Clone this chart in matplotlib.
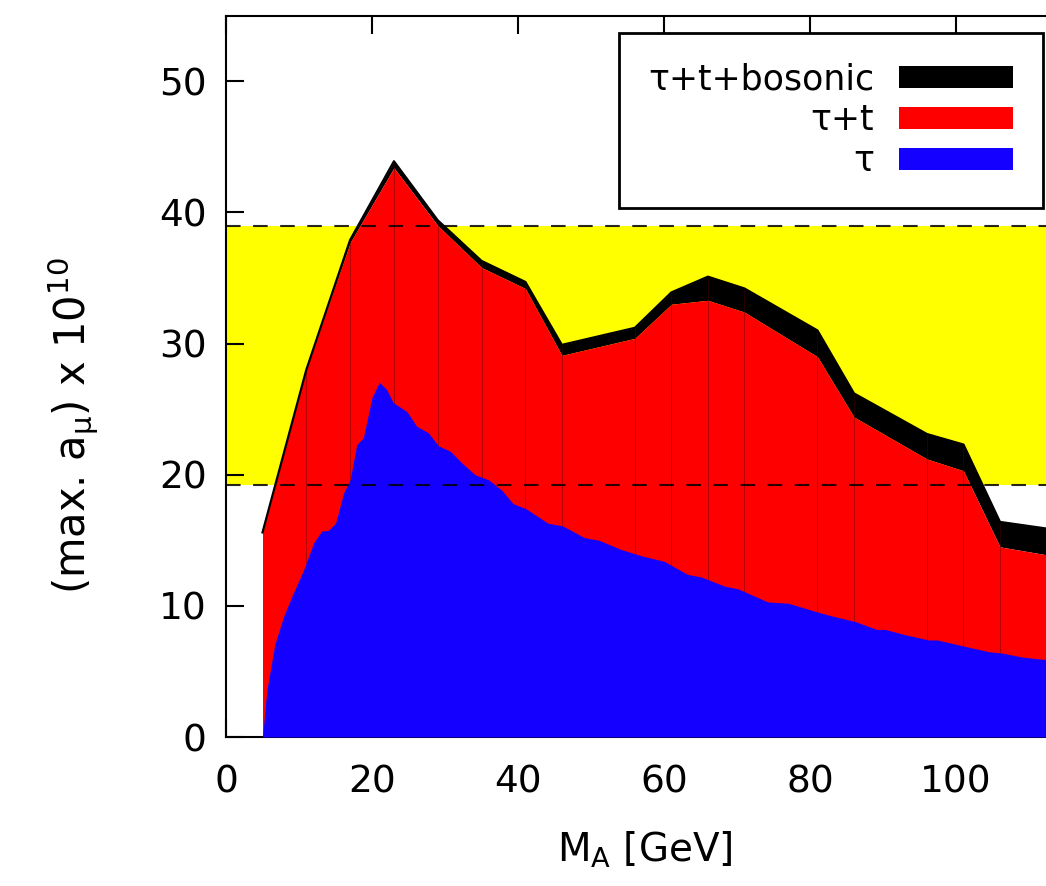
import matplotlib.pyplot as plt
from matplotlib.patches import Patch

# tau + top contribution (data points of the red region)
mass_tt = [5, 11, 17, 23, 29, 35, 41, 46, 56, 61, 66, 71, 81, 86, 96, 101, 106, 112.3]
amu_tt = [15.6, 28.0, 37.7, 43.4, 39.0, 35.8, 34.2, 29.1, 30.4, 33.0, 33.3, 32.4,
          29.0, 24.4, 21.2, 20.3, 14.5, 13.9]
# tau + top + bosonic (top of the black band)
amu_total = [15.6, 28.0, 37.9, 43.9, 39.4, 36.3, 34.7, 29.9, 31.2, 33.9, 35.1, 34.2,
             31.0, 26.2, 23.1, 22.3, 16.4, 15.9]

# tau only
mass_tau = [5.0, 5.6, 6.7, 7.9, 9.0, 10.6, 12.0, 13.1, 14.0, 15.0, 16.1, 17.0, 17.9,
            18.8, 20.0, 21.0, 22.0, 22.9, 24.8, 26.1, 27.7, 29.1, 30.7, 32.3, 34.1,
            36.0, 37.8, 39.3, 41.1, 44.1, 46.1, 49.1, 51.1, 54.1, 57.0, 60.0, 63.2,
            65.1, 68.3, 70.1, 74.2, 77.0, 81.2, 83.2, 86.2, 89.1, 90.3, 93.0, 96.2,
            97.4, 101.3, 104.5, 106.3, 109.0, 112.3]
amu_tau = [0.0, 3.6, 7.1, 9.2, 10.7, 12.7, 14.8, 15.7, 15.75, 16.3, 18.6, 19.6, 22.3,
           22.8, 25.9, 27.05, 26.5, 25.5, 24.8, 23.7, 23.2, 22.2, 21.8, 20.9, 20.0,
           19.6, 18.8, 17.8, 17.4, 16.3, 16.1, 15.2, 15.0, 14.3, 13.8, 13.4, 12.4,
           12.2, 11.5, 11.3, 10.3, 10.2, 9.5, 9.2, 8.8, 8.2, 8.2, 7.8, 7.4,
           7.4, 6.9, 6.5, 6.4, 6.1, 5.9]

# measured discrepancy band
band_lo, band_hi = 19.2, 39.0

labels = ["τ+t+bosonic", "τ+t", "τ"]
colors = ["black", "#ff0000", "#1400ff"]

plt.rcParams["font.family"] = "DejaVu Sans"
plt.rcParams["mathtext.default"] = "regular"

fig = plt.figure(figsize=(10.46, 8.86), dpi=100)
ax = fig.add_axes([226 / 1046, 149 / 886, 1 - 226 / 1046, 721.3 / 886])
ax.set_xlim(0, 112.3)
ax.set_ylim(0, 55)

ax.axhspan(band_lo, band_hi, color="#ffff00", lw=0, zorder=0)
ax.fill_between(mass_tt, amu_tt, amu_total, color="black", lw=0, zorder=1)
ax.fill_between(mass_tt, 0, amu_tt, color="#ff0000", lw=0, zorder=2)
ax.vlines(mass_tt[1:-1], 0, amu_total[1:-1], color="#5a0000", lw=0.6, alpha=0.5, zorder=2.5)
ax.fill_between(mass_tau, 0, amu_tau, color="#1400ff", lw=0, zorder=3)
ax.plot(mass_tt, amu_total, color="black", lw=1.6, zorder=4)
for y in (band_lo, band_hi):
    ax.axhline(y, color="black", lw=1.5, dashes=(7, 6), alpha=0.85, zorder=5)

ax.set_xticks(range(0, 101, 20))
ax.set_yticks(range(0, 51, 10))
ax.tick_params(direction="in", length=13, width=1.5, top=True, right=False,
               labelsize=27, pad=14)
ax.tick_params(axis="x", pad=20)
for side in ("left", "bottom", "top"):
    ax.spines[side].set_linewidth(1.5)
ax.spines["right"].set_visible(False)

ax.set_xlabel("M$_A$ [GeV]", fontsize=28, va="top")
ax.xaxis.set_label_coords(0.511, (737 - 830) / 721.3)
ax.set_ylabel("(max. a$_\\mu$) x 10$^{10}$", fontsize=30, va="center")
ax.yaxis.set_label_coords(-0.186, 0.431)

handles = [Patch(facecolor=c, edgecolor="none") for c in colors]
leg = ax.legend(handles, labels, loc="upper right", bbox_to_anchor=(0.996, 0.976),
                borderaxespad=0, markerfirst=False, fontsize=25, handlelength=3.3,
                handleheight=0.6, handletextpad=0.7, labelspacing=0.2, borderpad=0.85,
                fancybox=False, edgecolor="black", framealpha=1)
leg.get_frame().set_linewidth(2)
leg.set_zorder(10)

fig.savefig("out.png", dpi=100)
